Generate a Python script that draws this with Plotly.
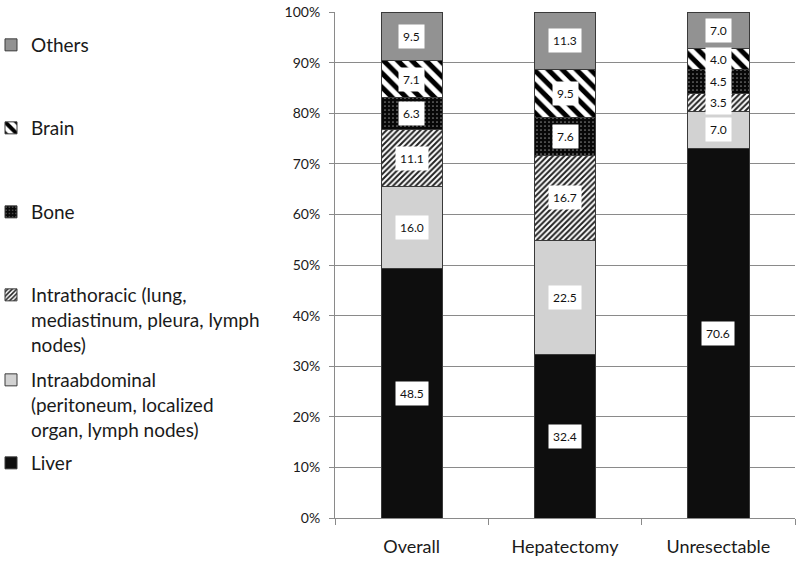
import plotly.graph_objects as go

categories = ["Overall", "Hepatectomy", "Unresectable"]
liver = [48.5, 32.4, 70.6]
intraabdominal = [16.0, 22.5, 7.0]
intrathoracic = [11.1, 16.7, 3.5]
bone = [6.3, 7.6, 4.5]
brain = [7.1, 9.5, 4.0]
others = [9.5, 11.3, 7.0]

names = [
    "Liver",
    "Intraabdominal<br>(peritoneum, localized<br>organ, lymph nodes)",
    "Intrathoracic (lung,<br>mediastinum, pleura, lymph<br>nodes)",
    "Bone",
    "Brain",
    "Others",
]
series = [liver, intraabdominal, intrathoracic, bone, brain, others]

FONT = "Lato"
W, H = 800, 562
ML, MR, MT, MB = 335, 5, 12, 44
PW = W - ML - MR

markers = [
    dict(color="#0e0e0e"),
    dict(color="#d2d2d2"),
    dict(color="white", pattern=dict(shape="/", fgcolor="#222222", bgcolor="white", size=4, solidity=0.5, fgopacity=1)),
    dict(color="black", pattern=dict(shape=".", fgcolor="#808080", bgcolor="#080808", size=4, solidity=0.15, fgopacity=1)),
    dict(color="white", pattern=dict(shape="\\", fgcolor="black", bgcolor="white", size=10, solidity=0.5, fgopacity=1)),
    dict(color="#929292"),
]
legend_centers = [463, 405, 320, 212, 128, 45]

fig = go.Figure()
for i, (nm, vals, mk) in enumerate(zip(names, series, markers)):
    mk = dict(mk)
    mk["line"] = dict(color="#3a3a3a", width=1)
    lg = "legend" if i == 0 else f"legend{i+1}"
    fig.add_trace(go.Bar(x=categories, y=vals, name=nm, marker=mk, width=0.4,
                         legend=lg, showlegend=True))

layout_legends = {}
for i, cy in enumerate(legend_centers):
    key = "legend" if i == 0 else f"legend{i+1}"
    layout_legends[key] = dict(
        xref="paper", yref="container", x=(-9 - ML) / PW, y=1 - cy / H,
        xanchor="left", yanchor="middle", valign="top",
        font=dict(family=FONT, size=19, color="#1a1a1a"),
        bgcolor="rgba(0,0,0,0)", itemwidth=30, tracegroupgap=0,
    )

# value labels centred in each (normalised) segment
annotations = []
for j, cat in enumerate(categories):
    total = sum(s[j] for s in series)
    cum = 0.0
    for s in series:
        v = s[j]
        mid = (cum + v / 2) / total * 100
        cum += v
        annotations.append(dict(
            x=cat, y=mid, xref="x", yref="y", text=f"{v:.1f}", showarrow=False,
            bgcolor="white", borderpad=4,
            font=dict(family=FONT, size=12, color="#111111"),
        ))

fig.update_layout(
    width=W, height=H,
    barmode="stack", barnorm="percent",
    plot_bgcolor="white", paper_bgcolor="white",
    margin=dict(l=ML, r=MR, t=MT, b=MB, autoexpand=False),
    font=dict(family=FONT, color="#1a1a1a"),
    annotations=annotations,
    showlegend=True,
    **layout_legends,
)
fig.update_yaxes(
    range=[0, 100], dtick=10, ticksuffix="%", showgrid=True, gridcolor="#8a8a8a", gridwidth=1,
    showline=True, linecolor="#8a8a8a", ticks="outside", ticklen=5, tickcolor="#8a8a8a",
    tickfont=dict(family=FONT, size=14, color="#1a1a1a"), zeroline=False,
    ticklabelstandoff=6,
)
fig.update_xaxes(
    showline=True, linecolor="#8a8a8a", ticks="outside", ticklen=6, tickcolor="#8a8a8a",
    tickson="boundaries", tickfont=dict(family=FONT, size=18, color="#1a1a1a"),
    ticklabelstandoff=12,
)

fig.write_html("out.html", config={"displayModeBar": False},
               post_script="document.body.style.margin='0';")
